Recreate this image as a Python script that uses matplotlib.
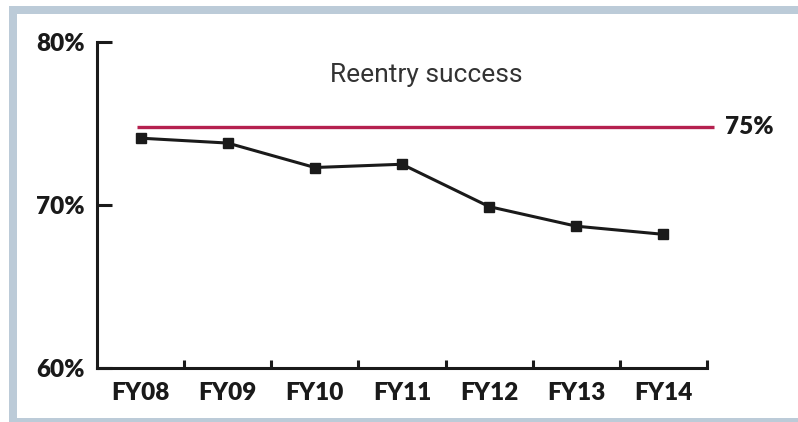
import matplotlib
matplotlib.use("Agg")
import matplotlib.pyplot as plt
from matplotlib.patches import Rectangle
from matplotlib.ticker import FixedLocator

categories = ["FY08", "FY09", "FY10", "FY11", "FY12", "FY13", "FY14"]
success = [74.1, 73.8, 72.3, 72.5, 69.9, 68.7, 68.2]
target_value = 74.8
target_label = "75%"
y_ticks = [60, 70, 80]
y_tick_labels = ["60%", "70%", "80%"]
title = "Reentry success"

W, H = 798, 422
fig = plt.figure(figsize=(W / 100, H / 100), dpi=100)
fig.patch.set_facecolor("white")

# light frame
frame = Rectangle((13 / W, 0.5 / H), 1.0, (422 - 10 - 0.5) / H,
                  transform=fig.transFigure, fill=False,
                  edgecolor="#bccbd8", linewidth=8 * 0.72, clip_on=False)
fig.patches.append(frame)

ax = fig.add_axes([97 / W, 1 - 368 / H, (707 - 97) / W, (368 - 42) / H])
ax.set_facecolor("white")

lab_font = dict(family=["Lato", "DejaVu Sans"], weight="heavy", size=17.5)

x = list(range(len(categories)))
ax.plot(x, success, color="#1a1a1a", linewidth=2.2, marker="s", markersize=7.5,
        zorder=3, clip_on=False)
ax.plot([-0.04, 6.58], [target_value, target_value], color="#b5214f",
        linewidth=2.4, clip_on=False, zorder=2, solid_capstyle="butt")
ax.text(6.71, target_value, target_label, ha="left", va="center", color="#1a1a1a",
        fontdict=lab_font, clip_on=False)

ax.text(3.275, 77.95, title, ha="center", va="center", color="#333333",
        family="Roboto", fontsize=19)

ax.set_xlim(-0.5, len(categories) - 0.5)
ax.set_ylim(60, 80)

for s in ["top", "right"]:
    ax.spines[s].set_visible(False)
for s in ["left", "bottom"]:
    ax.spines[s].set_linewidth(2.2)
    ax.spines[s].set_color("#1a1a1a")
    ax.spines[s].set_capstyle("projecting")

ax.set_yticks(y_ticks)
ax.set_yticklabels(y_tick_labels, fontdict=lab_font, color="#1a1a1a")
ax.tick_params(axis="y", direction="in", length=11, width=2.2, color="#1a1a1a", pad=9)

ax.set_xticks(x)
ax.set_xticklabels(categories, fontdict=lab_font, color="#1a1a1a")
ax.xaxis.set_minor_locator(FixedLocator([i + 0.5 for i in range(len(categories))]))
ax.tick_params(axis="x", which="major", length=0, pad=10)
ax.tick_params(axis="x", which="minor", direction="in", length=6, width=2.2, color="#1a1a1a")

fig.savefig("out.png", dpi=100, facecolor="white")
